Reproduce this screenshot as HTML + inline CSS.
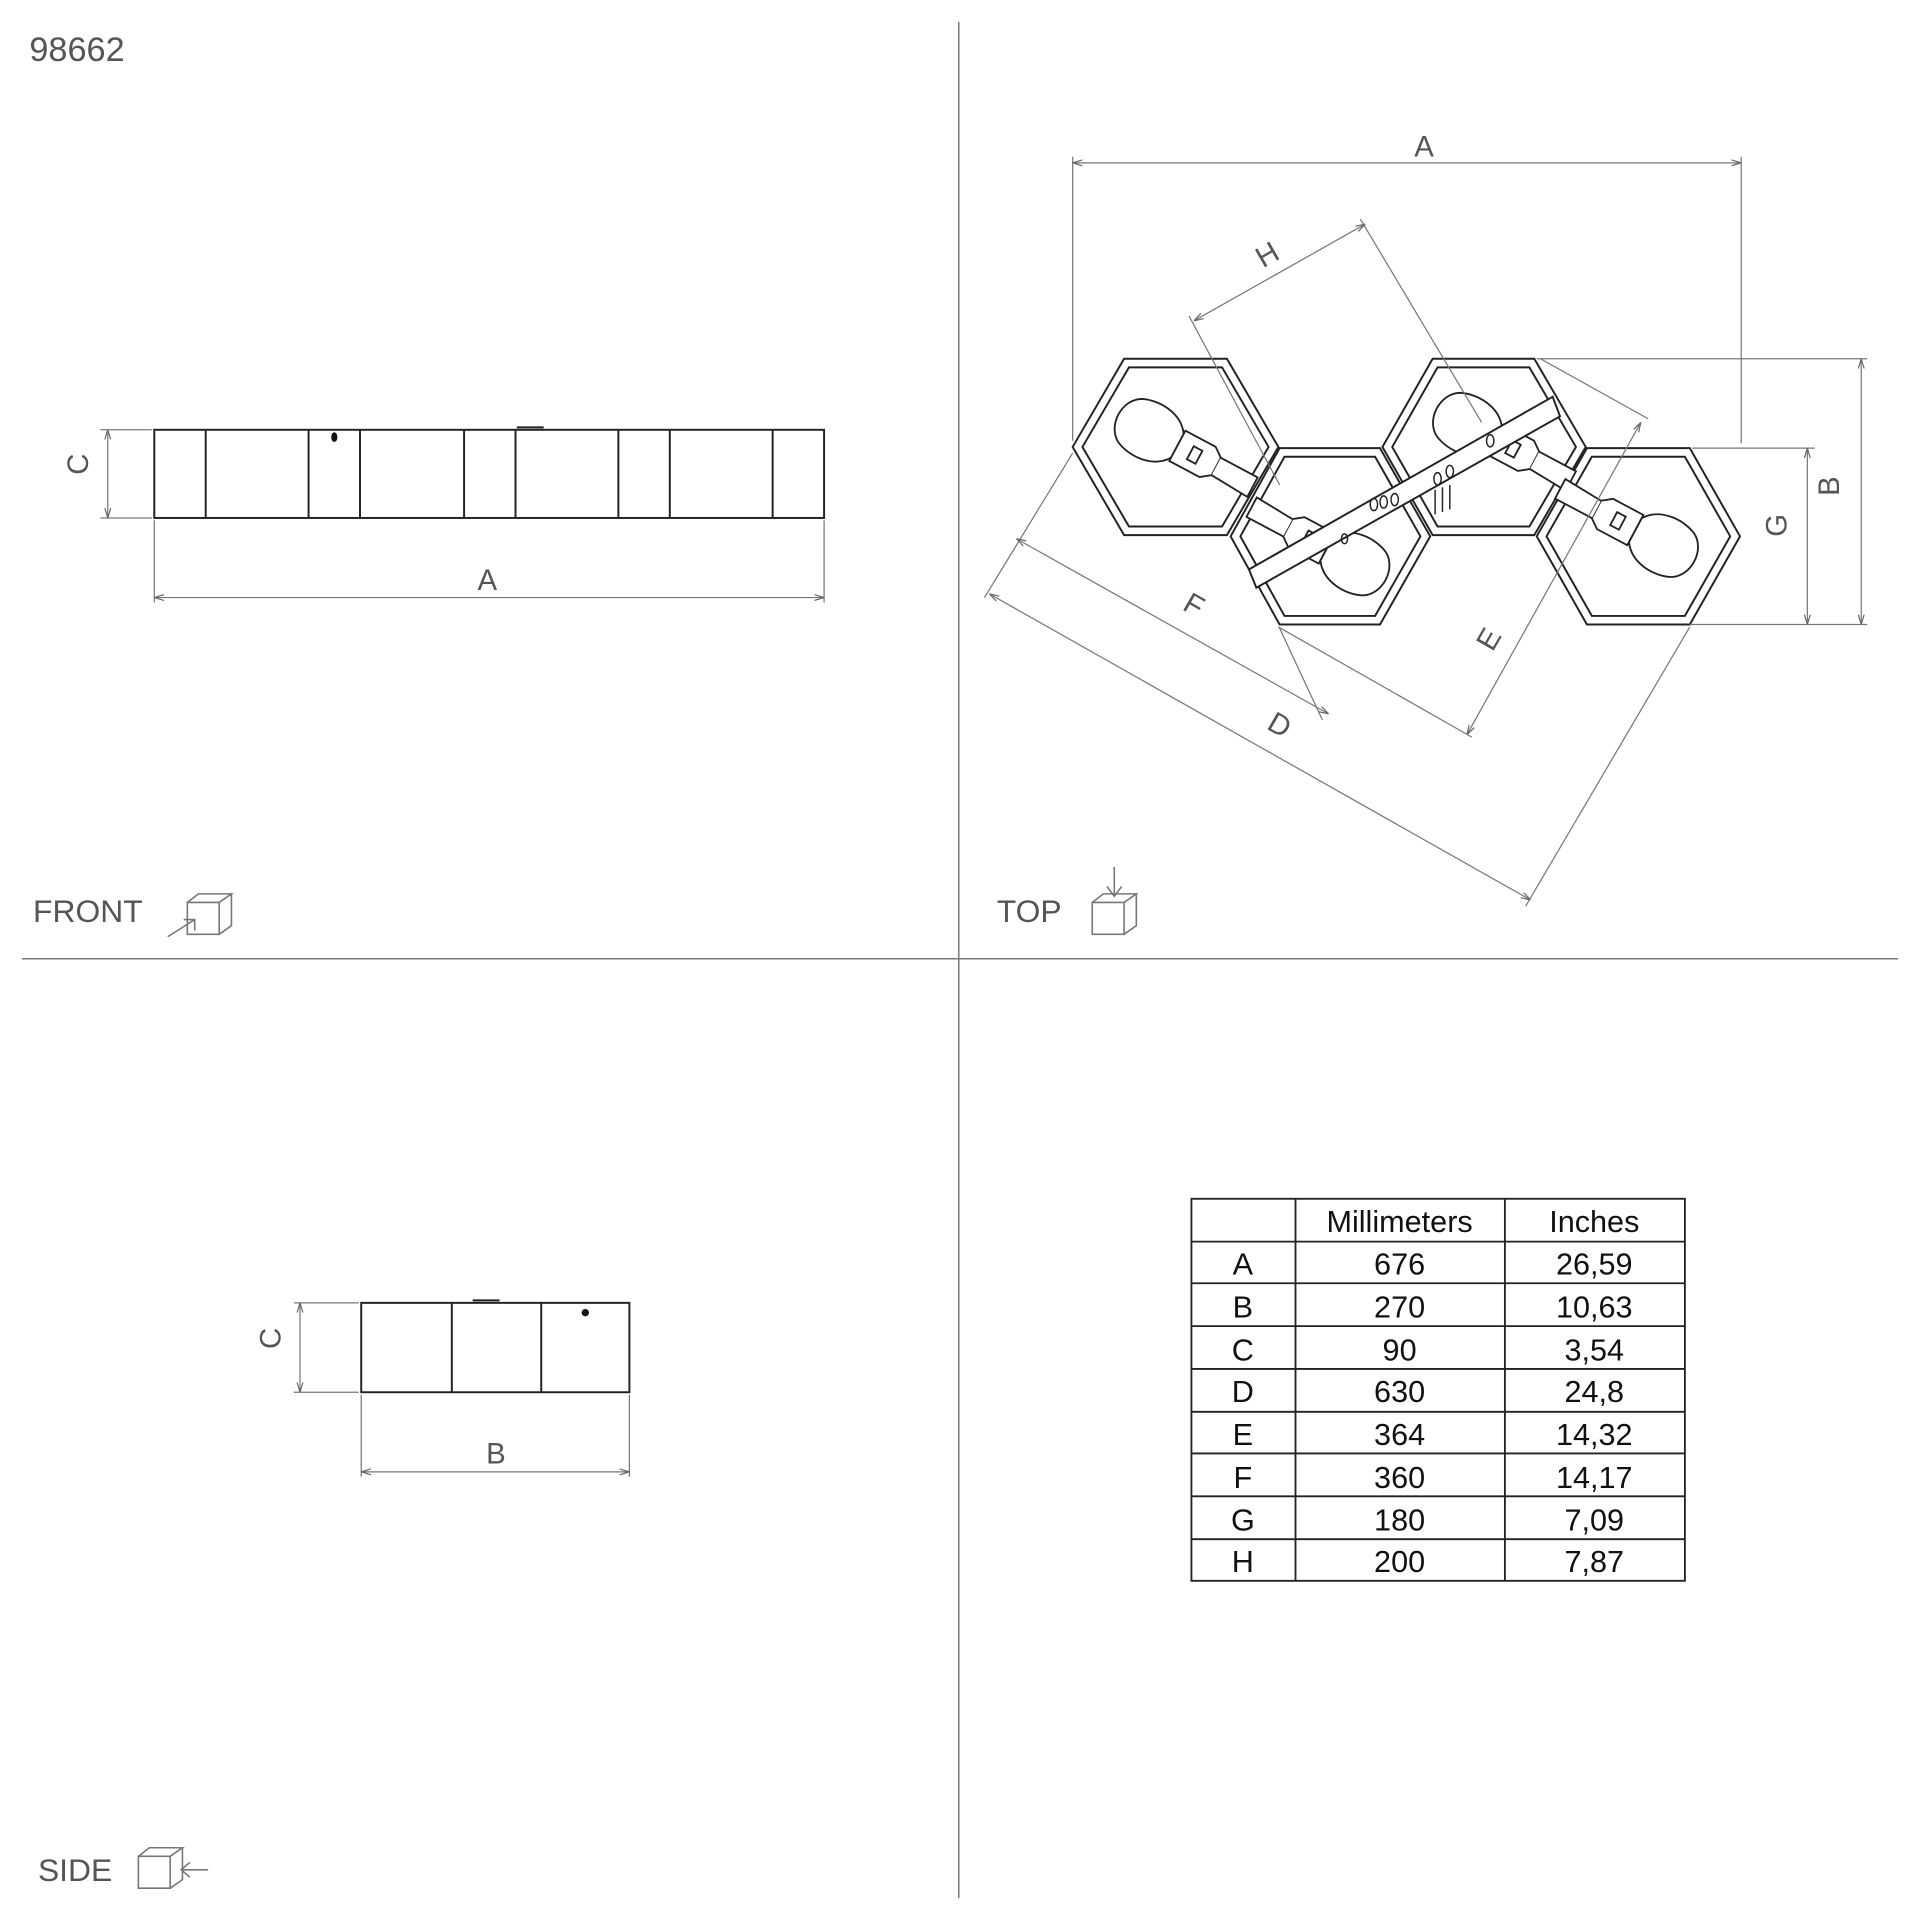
<!DOCTYPE html>
<html><head><meta charset="utf-8"><style>
html,body{margin:0;padding:0;background:#fff;}
svg{display:block;}
text{font-family:"Liberation Sans",sans-serif;fill:#555;}
.t text{fill:#111;}
</style></head><body>
<svg width="1920" height="1920" viewBox="0 0 1568 1568" xmlns="http://www.w3.org/2000/svg">
<defs>
<marker id="ar" viewBox="0 0 10 10" refX="10" refY="5" markerWidth="8" markerHeight="8" orient="auto-start-reverse"><path d="M0,2 L10,5 L0,8" fill="none" stroke="#666" stroke-width="1.2"/></marker>
<g id="bulb" stroke="#222" stroke-width="1.5" fill="#fff">
<path d="M30,-11 C20,-26 -2,-26 -14,-20 C-28,-12 -28,12 -14,20 C-2,26 20,26 30,11 Z"/>
<path d="M30,-14 H58 L66,-8 V8 L58,14 H30 Z"/>
<rect x="42" y="-6" width="8" height="12" fill="none"/>
<path d="M66,-8 L100,-8 L100,10 L66,8" />
</g>
</defs>
<g stroke="#777" stroke-width="1.2" fill="none">
<line x1="783" y1="18" x2="783" y2="1550"/>
<line x1="18" y1="783" x2="1550" y2="783"/>
</g>
<text x="24" y="50" font-size="28">98662</text>

<!-- FRONT -->
<g stroke="#222" stroke-width="1.6" fill="none">
<rect x="126" y="351" width="547" height="72"/>
<path d="M168 351V423M252 351V423M294 351V423M379 351V423M421 351V423M505 351V423M547 351V423M631 351V423M422 349H444"/>
</g>
<ellipse cx="273" cy="357" rx="2.5" ry="4" fill="#111"/>
<g stroke="#777" stroke-width="1" fill="none">
<path d="M126 425V492M673 425V492M82 351H124M82 423H124"/>
<line x1="126" y1="488" x2="673" y2="488" marker-start="url(#ar)" marker-end="url(#ar)"/>
<line x1="88" y1="351" x2="88" y2="423" marker-start="url(#ar)" marker-end="url(#ar)"/>
</g>
<text x="398" y="482" font-size="24" text-anchor="middle">A</text>
<text x="80" y="387" font-size="24" text-anchor="middle" transform="rotate(-90 72 387)">C</text>
<text x="27" y="753" font-size="26">FRONT</text>
<g stroke="#777" stroke-width="1.3" fill="none">
<path d="M153 737h26v26h-26z M153 737l9-7h27l-10 7 M189 730v26l-10 7"/>
<path d="M137 765l22-14 M150 751h9v9"/>
</g>

<!-- SIDE -->
<g stroke="#222" stroke-width="1.6" fill="none">
<rect x="295" y="1064" width="219" height="73"/>
<path d="M369 1064V1137M442 1064V1137M386 1062H408"/>
</g>
<circle cx="478" cy="1072" r="3" fill="#111"/>
<g stroke="#777" stroke-width="1" fill="none">
<path d="M295 1139V1206M514 1139V1206M240 1064H293M240 1137H293"/>
<line x1="295" y1="1202" x2="514" y2="1202" marker-start="url(#ar)" marker-end="url(#ar)"/>
<line x1="245" y1="1064" x2="245" y2="1137" marker-start="url(#ar)" marker-end="url(#ar)"/>
</g>
<text x="405" y="1195" font-size="24" text-anchor="middle">B</text>
<text x="237" y="1101" font-size="24" text-anchor="middle" transform="rotate(-90 229 1101)">C</text>
<text x="31" y="1536" font-size="26">SIDE</text>
<g stroke="#777" stroke-width="1.3" fill="none">
<path d="M113 1516h26v26h-26z M113 1516l9-7h27l-10 7 M149 1509v26l-10 7"/>
<path d="M170 1527h-22 M155 1521l-7 6 7 6"/>
</g>

<!-- TOP -->
<text x="814" y="753" font-size="26">TOP</text>
<g stroke="#777" stroke-width="1.3" fill="none">
<path d="M892 737h26v26h-26z M892 737l9-7h27l-10 7 M928 730v26l-10 7"/>
<path d="M910 708v24 M904 724l6 8 6-8"/>
</g>
<g stroke="#222" stroke-width="1.6" fill="none">
<path d="M876 365L918 293H1002L1044 365L1002 437H918Z"/>
<path d="M884 365L922 300H998L1036 365L998 430H922Z"/>
<path d="M1005 438L1045 366H1127L1168 438L1127 510H1045Z"/>
<path d="M1013 438L1049 373H1123L1160 438L1123 503H1049Z"/>
<path d="M1129 365L1170 293H1253L1295 365L1253 437H1170Z"/>
<path d="M1137 365L1174 300H1249L1287 365L1249 430H1174Z"/>
<path d="M1255 438L1296 366H1380L1421 438L1380 510H1296Z"/>
<path d="M1263 438L1300 373H1376L1413 438L1376 503H1300Z"/>
</g>
<use href="#bulb" transform="translate(935,350) rotate(28)"/>
<use href="#bulb" transform="translate(1110,462) rotate(208)"/>
<use href="#bulb" transform="translate(1195,345) rotate(28)"/>
<use href="#bulb" transform="translate(1362,447) rotate(208)"/>
<g stroke="#222" stroke-width="1.6" fill="#fff">
<path d="M1020 465L1268 324L1274 340L1026 480Z"/>
</g>
<g fill="none" stroke="#222" stroke-width="1.2">
<ellipse cx="1122" cy="412" rx="3" ry="5"/><ellipse cx="1130" cy="410" rx="3" ry="5"/><ellipse cx="1139" cy="408" rx="3" ry="5"/>
<ellipse cx="1174" cy="391" rx="3" ry="5"/><ellipse cx="1184" cy="385" rx="3" ry="5"/><ellipse cx="1217" cy="360" rx="3" ry="5"/>
<ellipse cx="1098" cy="440" rx="2.5" ry="4"/>
<path d="M1172 400v20M1178 398v20M1184 396v20"/>
</g>
<g stroke="#777" stroke-width="1" fill="none">
<path d="M876 360V128M1422 362V128"/>
<line x1="876" y1="133" x2="1422" y2="133" marker-start="url(#ar)" marker-end="url(#ar)"/>
<path d="M1255 293H1525M1380 510H1525M1382 366H1482M1382 510H1482"/>
<line x1="1520" y1="293" x2="1520" y2="510" marker-start="url(#ar)" marker-end="url(#ar)"/>
<line x1="1476" y1="366" x2="1476" y2="510" marker-start="url(#ar)" marker-end="url(#ar)"/>
<line x1="975" y1="262" x2="1115" y2="183" marker-start="url(#ar)" marker-end="url(#ar)"/>
<path d="M971 258L1045 396M1111 179L1210 345"/>
<line x1="1198" y1="600" x2="1340" y2="345" marker-start="url(#ar)" marker-end="url(#ar)"/>
<path d="M1258 293L1346 342M1044 512L1202 602"/>
<line x1="808" y1="485" x2="1250" y2="735" marker-start="url(#ar)" marker-end="url(#ar)"/>
<path d="M876 370L804 488M1380 512L1246 740"/>
<line x1="830" y1="440" x2="1085" y2="583" marker-start="url(#ar)" marker-end="url(#ar)"/>
<path d="M1045 513L1080 588"/>
</g>
<text x="1163" y="128" font-size="24" text-anchor="middle">A</text>
<text x="1035" y="216" font-size="24" text-anchor="middle" transform="rotate(-30 1035 208)">H</text>
<text x="1510" y="405" font-size="24" text-anchor="middle" transform="rotate(-90 1502 405)">B</text>
<text x="1467" y="437" font-size="24" text-anchor="middle" transform="rotate(-90 1459 437)">G</text>
<text x="975" y="502" font-size="24" text-anchor="middle" transform="rotate(30 975 494)">F</text>
<text x="1045" y="600" font-size="24" text-anchor="middle" transform="rotate(30 1045 592)">D</text>
<text x="1216" y="530" font-size="24" text-anchor="middle" transform="rotate(-60 1216 522)">E</text>

<!-- TABLE -->
<g stroke="#222" stroke-width="1.5" fill="none">
<rect x="973" y="979" width="403" height="312"/>
<path d="M1058 979V1291M1229 979V1291M973 1014H1376M973 1048H1376M973 1083H1376M973 1118H1376M973 1153H1376M973 1187H1376M973 1222H1376M973 1257H1376"/>
</g>
<g class="t" font-size="25" text-anchor="middle">
<text x="1143" y="1006">Millimeters</text><text x="1302" y="1006">Inches</text>
<text x="1015" y="1041">A</text><text x="1143" y="1041">676</text><text x="1302" y="1041">26,59</text>
<text x="1015" y="1076">B</text><text x="1143" y="1076">270</text><text x="1302" y="1076">10,63</text>
<text x="1015" y="1111">C</text><text x="1143" y="1111">90</text><text x="1302" y="1111">3,54</text>
<text x="1015" y="1145">D</text><text x="1143" y="1145">630</text><text x="1302" y="1145">24,8</text>
<text x="1015" y="1180">E</text><text x="1143" y="1180">364</text><text x="1302" y="1180">14,32</text>
<text x="1015" y="1215">F</text><text x="1143" y="1215">360</text><text x="1302" y="1215">14,17</text>
<text x="1015" y="1250">G</text><text x="1143" y="1250">180</text><text x="1302" y="1250">7,09</text>
<text x="1015" y="1284">H</text><text x="1143" y="1284">200</text><text x="1302" y="1284">7,87</text>
</g>
</svg>
</body></html>
